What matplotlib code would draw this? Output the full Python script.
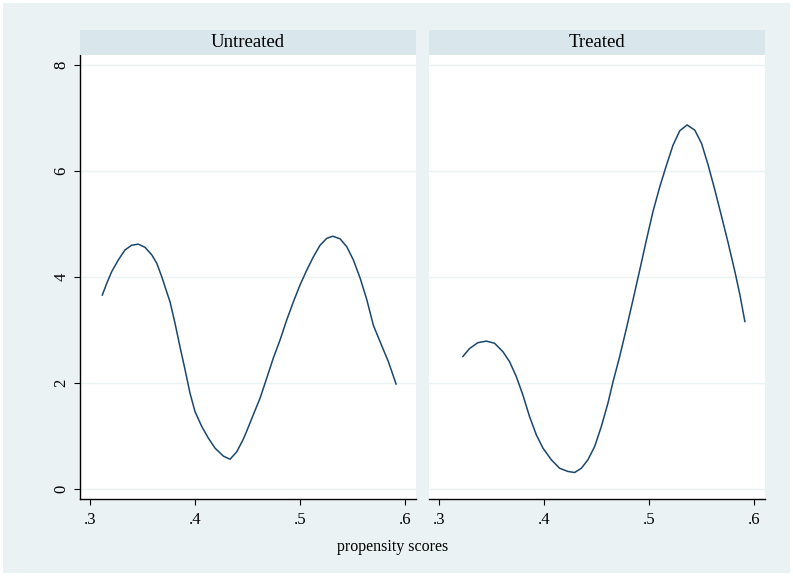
import numpy as np
import matplotlib.pyplot as plt
from matplotlib.patches import Rectangle

# valores (kernel density de propensity scores)
untreated_x = [0.3113, 0.3155, 0.3202, 0.3265, 0.3329, 0.3393, 0.3456, 0.3520, 0.3584,
               0.3632, 0.3679, 0.3727, 0.3759, 0.3806, 0.3854, 0.3902, 0.3949, 0.3997,
               0.4061, 0.4124, 0.4188, 0.4267, 0.4331, 0.4395, 0.4458, 0.4490, 0.4553,
               0.4617, 0.4681, 0.4744, 0.4808, 0.4872, 0.4935, 0.4999, 0.5063, 0.5126,
               0.5190, 0.5254, 0.5311, 0.5381, 0.5445, 0.5508, 0.5572, 0.5636, 0.5698,
               0.5762, 0.5842, 0.5915]
untreated_y = [3.66, 3.88, 4.10, 4.32, 4.51, 4.60, 4.62, 4.56, 4.42,
               4.26, 4.01, 3.72, 3.53, 3.13, 2.68, 2.25, 1.81, 1.46,
               1.18, 0.96, 0.77, 0.62, 0.56, 0.70, 0.94, 1.09, 1.40,
               1.71, 2.09, 2.47, 2.81, 3.19, 3.53, 3.85, 4.13, 4.38,
               4.60, 4.73, 4.77, 4.72, 4.57, 4.32, 3.98, 3.57, 3.09,
               2.78, 2.40, 1.98]

treated_x = [0.3223, 0.3287, 0.3366, 0.3446, 0.3525, 0.3605, 0.3669, 0.3733, 0.3796,
             0.3860, 0.3924, 0.3987, 0.4067, 0.4146, 0.4225, 0.4289, 0.4353, 0.4416,
             0.4480, 0.4544, 0.4607, 0.4655, 0.4719, 0.4783, 0.4846, 0.4910, 0.4974,
             0.5037, 0.5101, 0.5165, 0.5228, 0.5292, 0.5362, 0.5436, 0.5500, 0.5563,
             0.5627, 0.5691, 0.5754, 0.5818, 0.5866, 0.5913]
treated_y = [2.50, 2.65, 2.76, 2.79, 2.75, 2.59, 2.40, 2.12, 1.77,
             1.36, 1.02, 0.77, 0.55, 0.39, 0.33, 0.31, 0.39, 0.55,
             0.80, 1.18, 1.62, 2.02, 2.50, 3.03, 3.57, 4.13, 4.70,
             5.24, 5.70, 6.11, 6.49, 6.76, 6.87, 6.77, 6.52, 6.11,
             5.64, 5.14, 4.64, 4.10, 3.66, 3.16]

panel_titles = ["Untreated", "Treated"]
x_ticks = [0.3, 0.4, 0.5, 0.6]
x_tick_labels = [".3", ".4", ".5", ".6"]
y_ticks = [0, 2, 4, 6, 8]

bg = "#eaf2f3"
strip_color = "#d9e6eb"
line_color = "#1a476f"

plt.rcParams['font.family'] = ['Liberation Serif', 'DejaVu Serif']

fig = plt.figure(figsize=(7.93, 5.76), dpi=100)
fig.patch.set_facecolor("white")
fondo = Rectangle((3 / 793, 3 / 576), 787 / 793, 570 / 576,
                  transform=fig.transFigure, facecolor=bg,
                  edgecolor="none", zorder=-10)
fig.patches.append(fondo)

lefts = [80 / 793, 429 / 793]
width = 336 / 793
bottom = 77 / 576
height = 444 / 576
strip_h = 25 / 576

datos = [(untreated_x, untreated_y), (treated_x, treated_y)]

for i, (xs, ys) in enumerate(datos):
    ax = fig.add_axes([lefts[i], bottom, width, height])
    ax.set_facecolor("white")
    ax.plot(xs, ys, color=line_color, linewidth=1.1, solid_joinstyle="round")
    ax.set_xlim(0.29, 0.6105)
    ax.set_ylim(-0.19, 8.19)
    ax.set_xticks(x_ticks)
    ax.set_xticklabels(x_tick_labels, fontsize=12)
    ax.set_yticks(y_ticks)
    for y in y_ticks:
        ax.axhline(y, color=bg, linewidth=1.0, zorder=0)
    for s in ["top", "right"]:
        ax.spines[s].set_visible(False)
    ax.spines["bottom"].set_linewidth(1.0)
    ax.tick_params(axis="x", direction="out", length=4.5, width=0.8, pad=5)
    if i == 0:
        ax.spines["left"].set_linewidth(1.0)
        ax.tick_params(axis="y", direction="out", length=4.5, width=0.8, pad=3)
        ax.set_yticklabels([str(y) for y in y_ticks], fontsize=12,
                           rotation=90, va="center")
    else:
        ax.spines["left"].set_visible(False)
        ax.tick_params(axis="y", left=False, labelleft=False)

    # cabecera del panel
    sax = fig.add_axes([lefts[i], bottom + height, width, strip_h])
    sax.set_facecolor(strip_color)
    sax.set_xticks([])
    sax.set_yticks([])
    for s in sax.spines.values():
        s.set_visible(False)
    sax.text(0.5, 0.5, panel_titles[i], ha="center", va="center",
             fontsize=13.5, transform=sax.transAxes)

fig.text(393 / 793, 1 - 547 / 576, "propensity scores", ha="center",
         va="center", fontsize=11.5)

fig.savefig("out.png", dpi=100)
